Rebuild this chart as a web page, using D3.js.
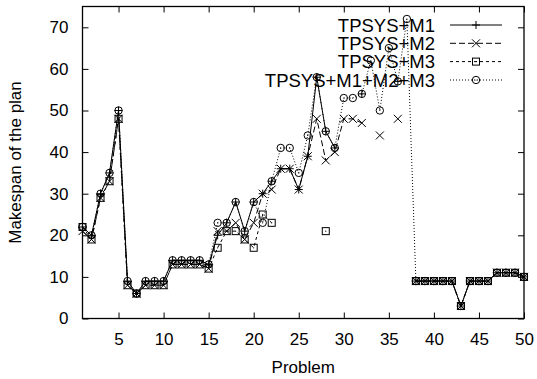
<!DOCTYPE html>
<html><head><meta charset="utf-8">
<script src="https://cdn.jsdelivr.net/npm/d3@7"></script>
<style>
html,body{margin:0;padding:0;background:#fff;}
text{font-family:"Liberation Sans",Arial,Helvetica,sans-serif;fill:#000;}
</style></head>
<body>
<svg id="chart" width="537" height="379"></svg>
<script>
const problems = [1,2,3,4,5,6,7,8,9,10,11,12,13,14,15,16,17,18,19,20,21,22,23,24,25,26,27,28,29,30,31,32,33,34,35,36,37,38,39,40,41,42,43,44,45,46,47,48,49,50];
const m1 = [22,20,30,35,50,9,6,9,9,9,14,14,14,14,13,20,23,28,21,28,30,33,36,36,31,39,58,45,41,null,null,54,null,null,null,57,null,9,9,9,9,9,3,9,9,9,11,11,11,10];
const m2 = [21,19,29,33,48,8,6,8,8,8,13,13,13,13,12,21,21,23,19,23,30,31,36,36,31,39,48,38,40,48,48,47,null,44,null,48,null,9,9,9,9,9,3,9,9,9,11,11,11,10];
const m3 = [22,19,29,33,48,8,6,8,8,8,13,13,13,13,12,17,21,21,19,17,25,23,null,null,null,null,null,21,null,null,null,null,null,null,null,null,null,9,9,9,9,9,3,9,9,9,11,11,11,10];
const m4 = [22,20,30,35,50,9,6,9,9,9,14,14,14,14,13,23,23,28,21,28,23,33,41,41,35,44,58,45,41,53,53,54,62,50,65,57,72,9,9,9,9,9,3,9,9,9,11,11,11,10];
const seriesNames = ["TPSYS+M1","TPSYS+M2","TPSYS+M3","TPSYS+M1+M2+M3"];
const xTicks = [5,10,15,20,25,30,35,40,45,50];
const yTicks = [0,10,20,30,40,50,60,70];

const svg = d3.select("#chart");
const L = 82.5, R = 524, T = 6.5, B = 318.5;
const x = d3.scaleLinear().domain([1,50]).range([L,R]);
const y = d3.scaleLinear().domain([0,75]).range([B,T]);

const styles = [
  {dash:null, marker:"plus"},
  {dash:"6,3", marker:"x"},
  {dash:"3,3", marker:"square"},
  {dash:"1,2", marker:"circle"}
];
const data = [m1,m2,m3,m4];

const fs = 17;
const gB = svg.append("g").attr("transform",`translate(0,${B})`)
  .call(d3.axisBottom(x).tickValues(xTicks).tickSize(-6).tickPadding(14).tickFormat(d3.format("d")));
const gT = svg.append("g").attr("transform",`translate(0,${T})`)
  .call(d3.axisTop(x).tickValues(xTicks).tickSize(-6).tickFormat(""));
const gL = svg.append("g").attr("transform",`translate(${L},0)`)
  .call(d3.axisLeft(y).tickValues(yTicks).tickSize(-6).tickPadding(14).tickFormat(d3.format("d")));
const gR = svg.append("g").attr("transform",`translate(${R},0)`)
  .call(d3.axisRight(y).tickValues(yTicks).tickSize(-6).tickFormat(""));
[gB,gT,gL,gR].forEach(g=>{
  g.select(".domain").remove();
  g.selectAll(".tick line").attr("stroke","#000").attr("stroke-width",1);
  g.selectAll("text").style("font-size",fs+"px").attr("font-family",null);
});
svg.append("rect").attr("x",L).attr("y",T).attr("width",R-L).attr("height",B-T)
  .attr("fill","none").attr("stroke","#000").attr("stroke-width",1.3);

svg.append("text").attr("x",(L+R)/2).attr("y",373).attr("text-anchor","middle")
  .style("font-size","17px").text("Problem");
svg.append("text").attr("transform",`translate(21,${(T+B)/2}) rotate(-90)`).attr("text-anchor","middle")
  .style("font-size","17px").text("Makespan of the plan");

function drawMarker(g, type, cx, cy){
  if(type==="plus"){
    g.append("path").attr("d",`M${cx-4},${cy}H${cx+4}M${cx},${cy-4}V${cy+4}`).attr("stroke","#000").attr("fill","none");
  } else if(type==="x"){
    g.append("path").attr("d",`M${cx-4},${cy-4}L${cx+4},${cy+4}M${cx-4},${cy+4}L${cx+4},${cy-4}`).attr("stroke","#000").attr("fill","none");
  } else if(type==="square"){
    g.append("rect").attr("x",cx-3.5).attr("y",cy-3.5).attr("width",7).attr("height",7).attr("stroke","#000").attr("fill","none");
    g.append("circle").attr("cx",cx).attr("cy",cy).attr("r",0.6).attr("fill","#000");
  } else {
    g.append("circle").attr("cx",cx).attr("cy",cy).attr("r",3.7).attr("stroke","#000").attr("fill","none");
    g.append("circle").attr("cx",cx).attr("cy",cy).attr("r",0.6).attr("fill","#000");
  }
}

const line = d3.line().defined(d=>d[1]!=null).x(d=>x(d[0])).y(d=>y(d[1]));
data.forEach((arr,i)=>{
  const pts = problems.map((p,j)=>[p,arr[j]]);
  const g = svg.append("g");
  g.append("path").datum(pts).attr("d",line).attr("fill","none").attr("stroke","#000")
    .attr("stroke-width",1).attr("stroke-dasharray",styles[i].dash);
  pts.filter(d=>d[1]!=null).forEach(d=>drawMarker(g, styles[i].marker, x(d[0]), y(d[1])));
});

const legY = [25,43.3,61.6,80];
seriesNames.forEach((name,i)=>{
  const g = svg.append("g");
  g.append("text").attr("x",435).attr("y",legY[i]).attr("dy","0.36em").attr("text-anchor","end")
    .style("font-size","18.5px").text(name);
  g.append("line").attr("x1",450).attr("x2",502).attr("y1",legY[i]).attr("y2",legY[i])
    .attr("stroke","#000").attr("stroke-dasharray",styles[i].dash);
  drawMarker(g, styles[i].marker, 476, legY[i]);
});
</script>
</body></html>
